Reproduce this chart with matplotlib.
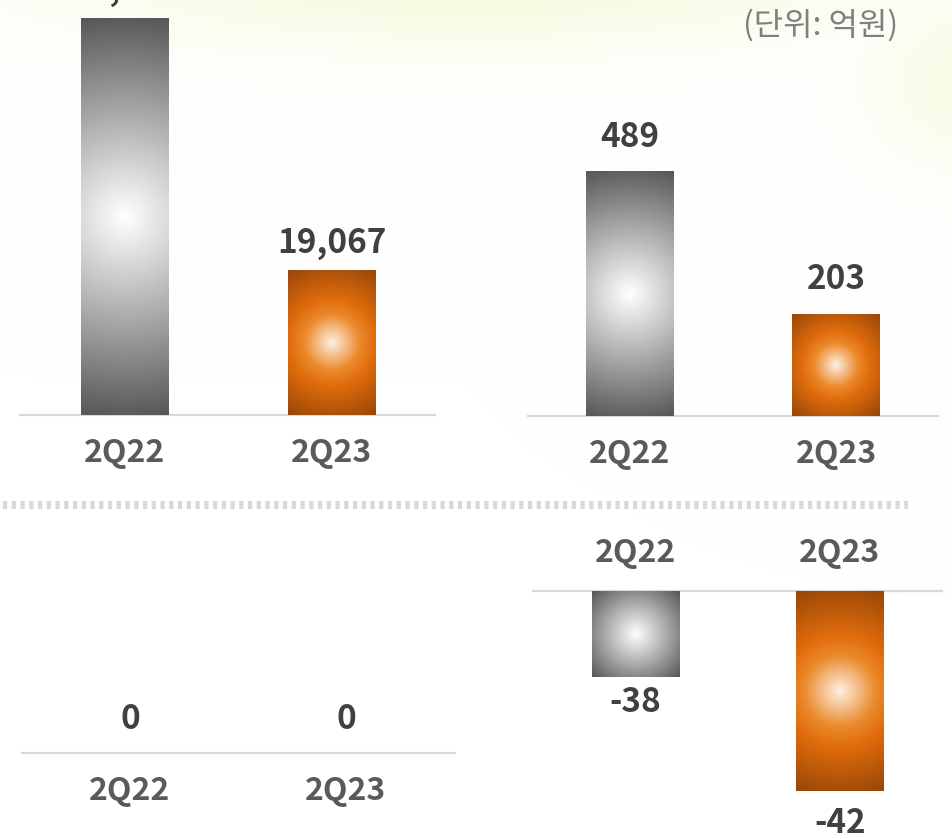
import numpy as np
import matplotlib
matplotlib.use("Agg")
import matplotlib.pyplot as plt
from matplotlib.colors import LinearSegmentedColormap
from matplotlib.lines import Line2D

plt.rcParams['font.family'] = ['Noto Sans CJK KR', 'DejaVu Sans']
plt.rcParams['lines.scale_dashes'] = False

# data (unit: 억원)
quarters = ['2Q22', '2Q23']
panel_a = [52500, 19067]   # top-left, 2Q22 label runs off the top
panel_b = [489, 203]       # top-right
panel_c = [0, 0]           # bottom-left
panel_d = [-38, -42]       # bottom-right

W, H = 953, 839
fig = plt.figure(figsize=(W / 100, H / 100), dpi=100)

# faint yellow-green glow in the background
yy, xx = np.mgrid[0:H, 0:W]
glow = np.exp(-((xx - 470) / 420.0) ** 2 - ((yy + 20) / 70.0) ** 2)
glow = np.maximum(glow, 0.8 * np.exp(-((xx - 975) / 110.0) ** 2 - ((yy - 80) / 90.0) ** 2))
tint = np.array([246, 251, 222]) / 255.0
bg = 1 - glow[..., None] * (1 - tint)
bgax = fig.add_axes([0, 0, 1, 1], zorder=-10)
bgax.imshow(bg, extent=[0, W, H, 0], aspect='auto')
bgax.axis('off')

gray_cm = LinearSegmentedColormap.from_list('g', [(0, '#ffffff'), (1, '#575757')])
orange_cm = LinearSegmentedColormap.from_list(
    'o', [(0, '#fdf0e3'), (0.33, '#eb8a2c'), (0.52, '#e06c0c'), (1, '#984608')])

VAL_C = '#404040'
TICK_C = '#5a5a5a'
LINE_C = '#d9d9d9'


def px_axes(x0, x1, ytop, ybot):
    # pixel box -> figure fraction
    return fig.add_axes([x0 / W, 1 - ybot / H, (x1 - x0) / W, (ybot - ytop) / H])


def shade(ax, bars, cmaps):
    ylo, yhi = ax.get_ylim()
    xlim = ax.get_xlim()
    for b, cm in zip(bars, cmaps):
        x0, y0 = b.get_x(), b.get_y()
        x1, y1 = x0 + b.get_width(), y0 + b.get_height()
        ya, yb = max(min(y0, y1), ylo), min(max(y0, y1), yhi)
        if yb <= ya:
            continue
        p0 = ax.transData.transform((x0, ya))
        p1 = ax.transData.transform((x1, yb))
        w, h = abs(p1[0] - p0[0]), abs(p1[1] - p0[1])
        nx, ny = max(int(w), 2), max(int(h), 2)
        gx = np.linspace(-w / 2, w / 2, nx)
        gy = np.linspace(-h / 2, h / 2, ny)
        GX, GY = np.meshgrid(gx, gy)
        r = np.hypot(GX, GY) / np.hypot(w / 2, h / 2)
        ax.imshow(cm(r), extent=[x0, x1, ya, yb], origin='lower',
                  aspect='auto', zorder=3, interpolation='bilinear')
        b.set_visible(False)
    ax.set_xlim(xlim)
    ax.set_ylim(ylo, yhi)


def style(ax, top=False):
    for s in ax.spines.values():
        s.set_visible(False)
    sp = ax.spines['top' if top else 'bottom']
    sp.set_visible(True)
    sp.set_color(LINE_C)
    sp.set_linewidth(1.6)
    ax.set_yticks([])
    ax.set_xticks([0, 1])
    ax.set_xticklabels(quarters, fontsize=23, color=TICK_C, fontweight='bold')
    ax.tick_params(axis='x', length=0, pad=16)
    if top:
        ax.xaxis.tick_top()
    ax.patch.set_alpha(0)


def labels(ax, vals, offs, fmt='{:,}'):
    for i, (v, off) in enumerate(zip(vals, offs)):
        ax.annotate(fmt.format(v), (i, v), xytext=(0, off), textcoords='offset points',
                    ha='center', va='center', fontsize=24, fontweight='bold',
                    color=VAL_C, annotation_clip=False, zorder=5)


cm_pair = [gray_cm, orange_cm]

# top-left
ax1 = px_axes(20, 435, 0, 415)
ax1.set_xlim(-0.507, 1.498)
ax1.set_ylim(0, 54950)
b1 = ax1.bar([0, 1], panel_a, width=0.425)
style(ax1)
shade(ax1, b1, cm_pair)
labels(ax1, panel_a, [20, 20])

# top-right
ax2 = px_axes(528, 938, 100, 416)
ax2.set_xlim(-0.495, 1.495)
ax2.set_ylim(0, 633)
b2 = ax2.bar([0, 1], panel_b, width=0.425)
style(ax2)
shade(ax2, b2, cm_pair)
labels(ax2, panel_b, [25, 25])

# bottom-left
ax3 = px_axes(22, 455, 600, 753)
ax3.set_xlim(-0.5, 1.505)
ax3.set_ylim(0, 1)
ax3.bar([0, 1], panel_c, width=0.41)
style(ax3)
labels(ax3, panel_c, [24, 24])

# bottom-right (axis top sits at -35)
ax4 = px_axes(533, 942, 591, 839)
ax4.set_xlim(-0.498, 1.498)
ax4.set_ylim(-43.7, -35)
b4 = ax4.bar([0, 1], panel_d, width=0.425)
style(ax4, top=True)
shade(ax4, b4, cm_pair)
labels(ax4, panel_d, [-19, -24])

# dotted separator
fig.add_artist(Line2D([3 / W, 908 / W], [1 - 505 / H] * 2, transform=fig.transFigure,
                      color=LINE_C, lw=5.8, dashes=(3.0, 3.3), solid_capstyle='butt',
                      dash_capstyle='butt'))

fig.text(898 / W, 1 - 25 / H, '(단위: 억원)', ha='right', va='center',
         fontsize=23, color='#7f7f7f')

fig.savefig('out.png', dpi=100)
